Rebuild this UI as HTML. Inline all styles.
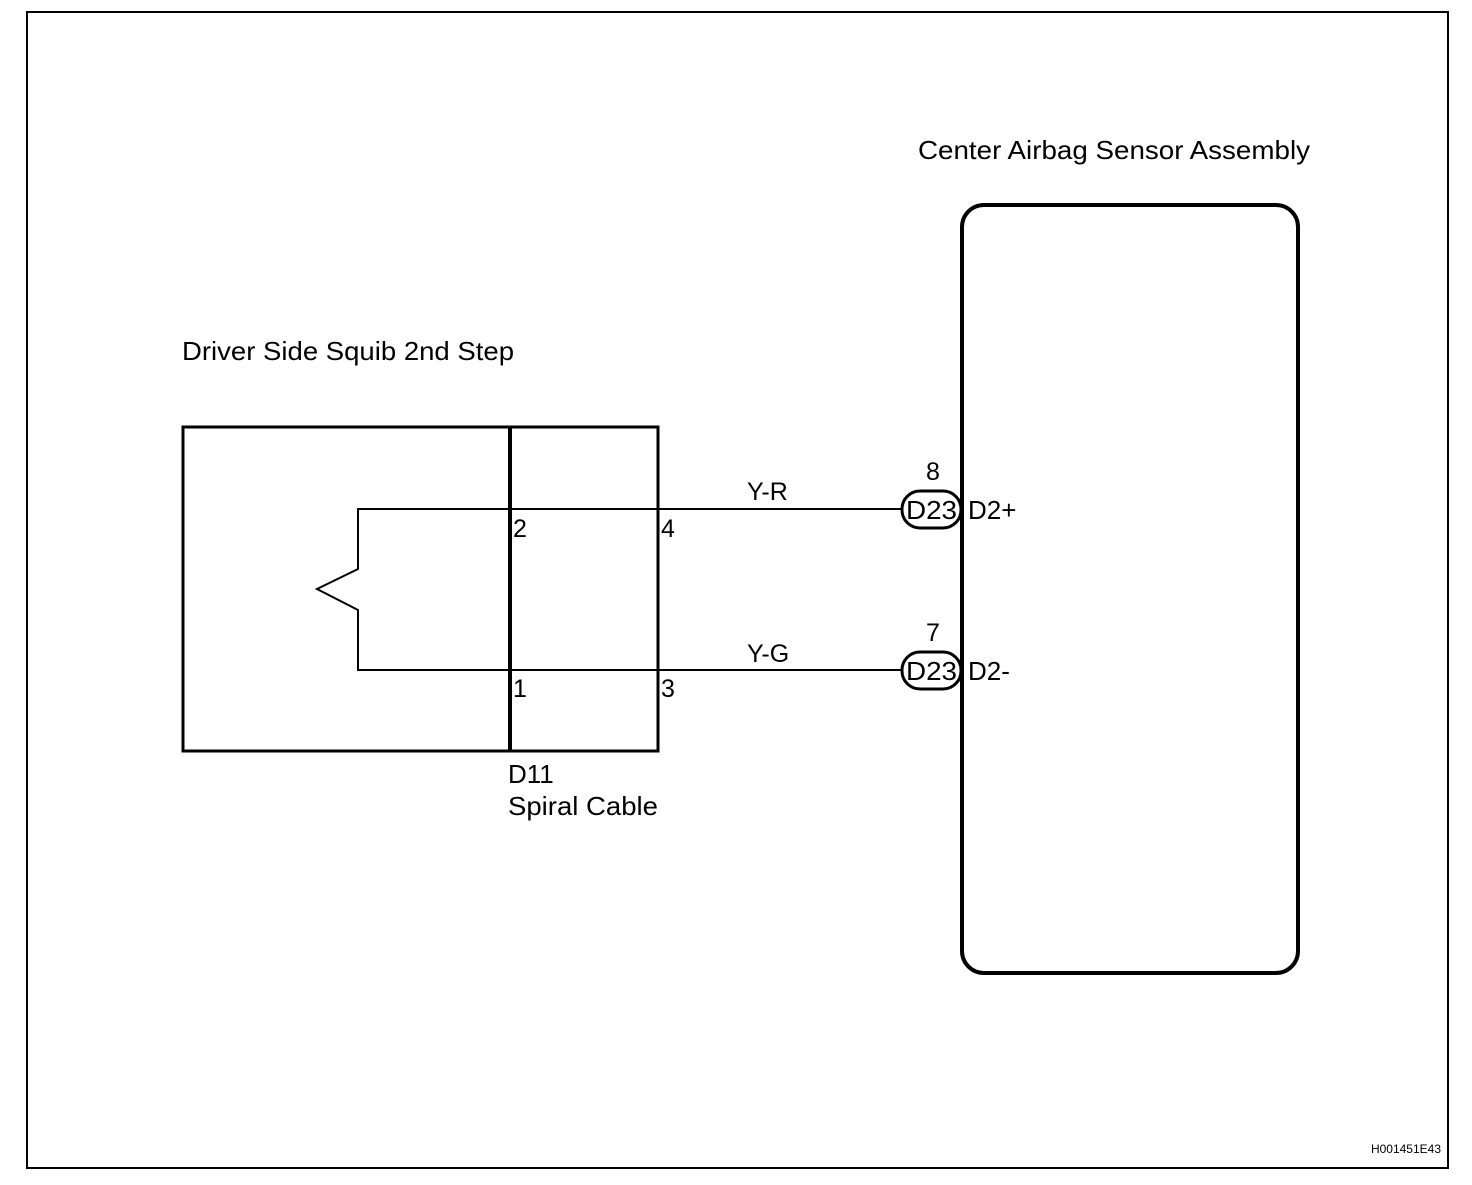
<!DOCTYPE html>
<html><head><style>
html,body{margin:0;padding:0;background:#fff;}
svg text{font-family:"Liberation Sans",Arial,sans-serif;fill:#000;}
</style></head><body>
<svg width="1472" height="1180" viewBox="0 0 1472 1180" xmlns="http://www.w3.org/2000/svg">
<rect x="27" y="12" width="1421" height="1156" fill="none" stroke="#000" stroke-width="2"/>
<text x="918" y="159" font-size="26" textLength="392" lengthAdjust="spacingAndGlyphs">Center Airbag Sensor Assembly</text>
<rect x="962" y="205" width="336" height="768" rx="22" fill="none" stroke="#000" stroke-width="4"/>
<text x="182" y="360" font-size="26" textLength="332" lengthAdjust="spacingAndGlyphs">Driver Side Squib 2nd Step</text>
<rect x="183" y="427" width="475" height="324" fill="none" stroke="#000" stroke-width="3"/>
<line x1="510" y1="427" x2="510" y2="751" stroke="#000" stroke-width="4"/>
<polyline points="902,509 358,509 358,569 317,589 358,610 358,670 902,670" fill="none" stroke="#000" stroke-width="2"/>
<text x="513" y="537" font-size="25">2</text>
<text x="661" y="537" font-size="25">4</text>
<text x="513" y="697" font-size="25">1</text>
<text x="661" y="697" font-size="25">3</text>
<text x="508" y="783" font-size="26">D11</text>
<text x="508" y="815" font-size="26" textLength="150" lengthAdjust="spacingAndGlyphs">Spiral Cable</text>
<text x="747" y="500" font-size="25">Y-R</text>
<text x="747" y="662" font-size="25">Y-G</text>
<rect x="902" y="491" width="59" height="37" rx="18" fill="#fff" stroke="#000" stroke-width="3"/>
<rect x="902" y="652" width="59" height="37" rx="18" fill="#fff" stroke="#000" stroke-width="3"/>
<text x="931.5" y="519" font-size="26" text-anchor="middle" textLength="51" lengthAdjust="spacingAndGlyphs">D23</text>
<text x="931.5" y="680" font-size="26" text-anchor="middle" textLength="51" lengthAdjust="spacingAndGlyphs">D23</text>
<text x="933" y="480" font-size="25" text-anchor="middle">8</text>
<text x="933" y="641" font-size="25" text-anchor="middle">7</text>
<text x="968" y="519" font-size="26">D2+</text>
<text x="968" y="680" font-size="26">D2-</text>
<text x="1441" y="1153" font-size="12" text-anchor="end">H001451E43</text>
</svg>
</body></html>
